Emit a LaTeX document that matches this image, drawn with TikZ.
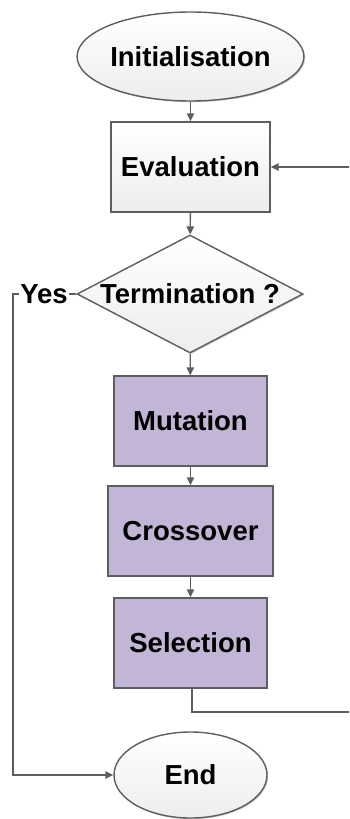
\documentclass[tikz,border=0pt]{standalone}
\usepackage{fontspec}
\setmainfont{Liberation Sans}
\usetikzlibrary{shapes.geometric,arrows.meta,shadows}
\definecolor{linec}{HTML}{5E5E5E}
\definecolor{purp}{HTML}{C2B5D5}
\definecolor{lgray}{HTML}{EDEDED}
\begin{document}
\begin{tikzpicture}[x=1pt,y=-1pt,
  every node/.style={font=\fontsize{27.5}{32}\selectfont\bfseries, inner sep=0pt, text=black},
  base/.style={draw=linec, line width=1.4pt, drop shadow={shadow xshift=1.2pt, shadow yshift=-1.2pt, opacity=0.2, fill=black}},
  grayfill/.style={base, shading=axis, top color=white, bottom color=lgray},
  term/.style={grayfill, ellipse},
  graybox/.style={grayfill, rectangle},
  purpbox/.style={base, rectangle, fill=purp},
  conn/.style={draw=linec, line width=1.4pt, -{Triangle[length=8pt,width=7.5pt]}},
  plain/.style={draw=linec, line width=1.4pt}
]
\useasboundingbox (0,0) rectangle (349,819);
\clip (0,0) rectangle (349,819);
\fill[white] (0,0) rectangle (349,819);

\node[term, minimum width=189pt, minimum height=89pt] (init) at (190.5,56.5) {Initialisation};
\node[graybox, minimum width=159pt, minimum height=90pt] (eval) at (190.5,167) {Evaluation};
\node[grayfill, diamond, minimum width=226pt, minimum height=118pt, label={center:Termination ?}] (term) at (190,294) {};
\node[purpbox, minimum width=153pt, minimum height=90pt] (mut) at (190.5,421) {Mutation};
\node[purpbox, minimum width=165pt, minimum height=90pt] (cross) at (190.5,531) {Crossover};
\node[purpbox, minimum width=153pt, minimum height=90pt] (sel) at (190.5,643) {Selection};
\node[term, minimum width=153pt, minimum height=86pt] (end) at (190.5,775) {End};

\draw[conn] (init) -- (eval);
\draw[conn] (eval) -- (term);
\draw[conn] (term) -- (mut);
\draw[conn] (mut) -- (cross);
\draw[conn] (cross) -- (sel);

\coordinate (yc) at (13,294);
\draw[conn] (term.west) -- (yc) |- (end.west);
\node[fill=white, inner xsep=1pt, inner ysep=2pt] (yes) at (44,294) {Yes};

\coordinate (lb) at (192,712);
\coordinate (rb) at (356,712);
\draw[conn] (sel.south -| lb) -- (lb) -- (rb) |- (eval.east);
\end{tikzpicture}
\end{document}
